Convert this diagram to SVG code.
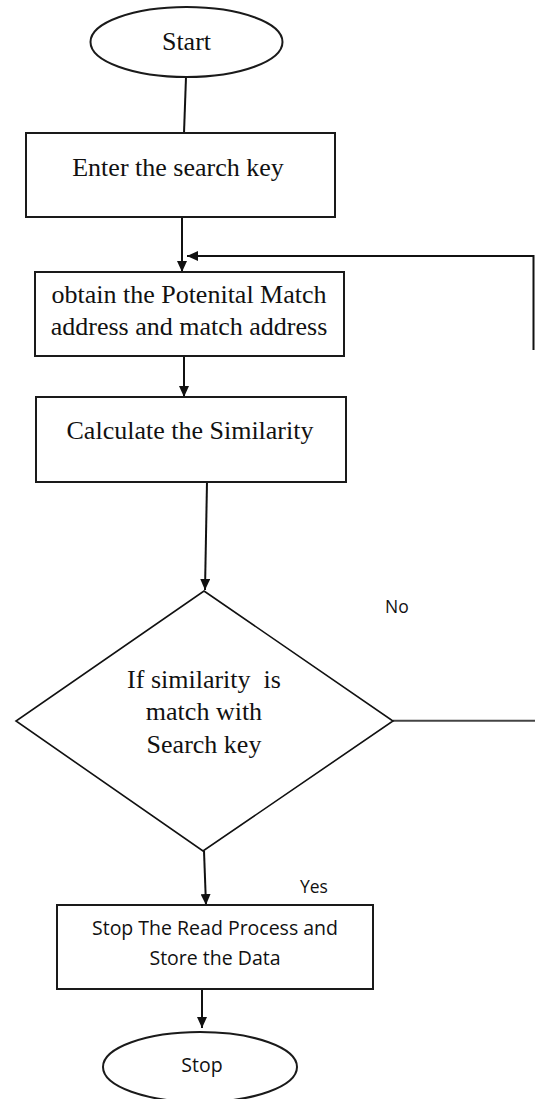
<svg xmlns="http://www.w3.org/2000/svg" width="535" height="1099" viewBox="0 0 535 1099">
<style>
.box{fill:#fff;stroke:#1a1a1a;stroke-width:2}
.dia{fill:#fff;stroke:#111;stroke-width:1.6}
.ser{font-family:"Liberation Serif","Times New Roman",serif;font-size:26px;fill:#111;text-anchor:middle}
.san{font-family:"Open Sans","Noto Sans",sans-serif;font-size:19.5px;fill:#111;text-anchor:middle}
.lbl{font-family:"Open Sans","Noto Sans",sans-serif;font-size:17.5px;fill:#111}
.ln{fill:none;stroke:#111;stroke-width:2}
</style>
<defs>
<marker id="ah" markerUnits="userSpaceOnUse" markerWidth="12" markerHeight="10" refX="11" refY="5" orient="auto">
<path d="M0,0 L11,5 L0,10 Z" fill="#111"/>
</marker>
</defs>
<rect width="535" height="1099" fill="#fff"/>
<g id="connectors">
<line class="ln" x1="186" y1="77" x2="184" y2="133"/>
<line class="ln" x1="182" y1="218" x2="182" y2="272" marker-end="url(#ah)"/>
<polyline class="ln" points="533.5,350 533.5,256 187,256" marker-end="url(#ah)"/>
<line class="ln" x1="184" y1="356" x2="184" y2="397" marker-end="url(#ah)"/>
<line class="ln" x1="207" y1="482" x2="205" y2="590" marker-end="url(#ah)"/>
<line x1="393" y1="720.7" x2="535" y2="720.7" stroke="#444" stroke-width="2"/>
<line class="ln" x1="204" y1="851" x2="206" y2="905" marker-end="url(#ah)"/>
<line class="ln" x1="202" y1="989" x2="202" y2="1028" marker-end="url(#ah)"/>
<text class="lbl" x="385" y="613">No</text>
<text class="lbl" x="300" y="893">Yes</text>
</g>
<g id="start">
<ellipse class="box" cx="186.5" cy="42" rx="96" ry="35"/>
<text class="ser" x="186.5" y="50">Start</text>
</g>
<g id="enter-key">
<rect class="box" x="26" y="133" width="309" height="84"/>
<text class="ser" x="178" y="176">Enter the search key</text>
</g>
<g id="obtain">
<rect class="box" x="35" y="272" width="309" height="84"/>
<text class="ser" x="189" y="303">obtain the Potenital Match</text>
<text class="ser" x="189" y="335">address and match address</text>
</g>
<g id="calculate">
<rect class="box" x="36" y="397" width="310" height="85"/>
<text class="ser" x="190" y="439">Calculate the Similarity</text>
</g>
<g id="decision">
<polygon class="dia" points="204,591 393,721 203,851 16,721"/>
<text class="ser" x="204" y="688" style="white-space:pre">If similarity  is</text>
<text class="ser" x="204" y="720">match with</text>
<text class="ser" x="204" y="753">Search key</text>
</g>
<g id="store">
<rect class="box" x="57" y="905" width="316" height="84"/>
<text class="san" x="215" y="935">Stop The Read Process and</text>
<text class="san" x="215" y="965">Store the Data</text>
</g>
<g id="stop">
<ellipse class="box" cx="200" cy="1067" rx="97" ry="35"/>
<text class="san" x="202" y="1072">Stop</text>
</g>
</svg>
